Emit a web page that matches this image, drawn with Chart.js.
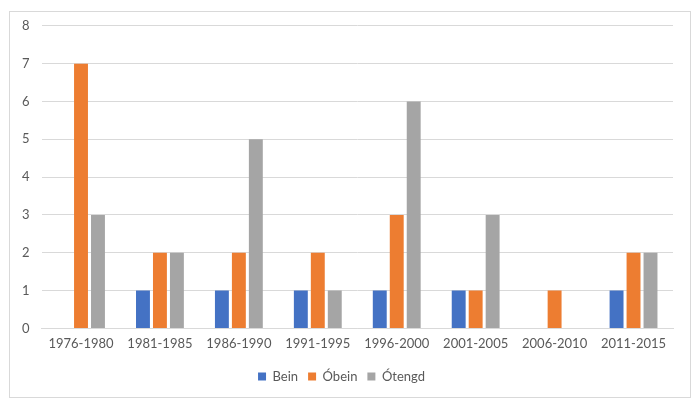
<!DOCTYPE html>
<html>
<head>
<meta charset="utf-8">
<script src="https://cdn.jsdelivr.net/npm/chart.js@4/dist/chart.umd.min.js"></script>
<style>
html,body{margin:0;padding:0;background:#fff;width:700px;height:413px;overflow:hidden;}
#frame{position:absolute;left:9px;top:11px;width:680px;height:385px;border:1px solid #d9d9d9;}
#c{position:absolute;left:10px;top:6px;display:block;}
</style>
</head>
<body>
<div id="frame"></div>
<canvas id="c" width="680" height="391"></canvas>
<script>
const categories = ["1976-1980","1981-1985","1986-1990","1991-1995","1996-2000","2001-2005","2006-2010","2011-2015"];
const bein = [0,1,1,1,1,1,0,1];
const obein = [7,2,2,2,3,1,1,2];
const otengd = [3,2,5,1,6,3,0,2];
const seriesNames = ["Bein","Óbein","Ótengd"];
const yTicks = [0,1,2,3,4,5,6,7,8];

const font = {family:"Lato, 'Open Sans', sans-serif", size:13};
new Chart(document.getElementById('c'), {
  type:'bar',
  data:{
    labels:categories,
    datasets:[
      {label:seriesNames[0], data:bein, backgroundColor:'#4472c4'},
      {label:seriesNames[1], data:obein, backgroundColor:'#ed7d31'},
      {label:seriesNames[2], data:otengd, backgroundColor:'#a5a5a5'}
    ]
  },
  options:{
    responsive:false,
    animation:false,
    devicePixelRatio:1,
    datasets:{bar:{categoryPercentage:0.645, barPercentage:0.82}},
    layout:{padding:{left:0,right:17,top:0,bottom:4}},
    plugins:{
      legend:{position:'bottom', labels:{boxWidth:8, boxHeight:8, font:font, color:'#595959', padding:10}},
      tooltip:{enabled:false}
    },
    scales:{
      x:{
        grid:{display:false, drawTicks:false},
        border:{color:'#d9d9d9'},
        ticks:{font:font, color:'#595959', padding:8, maxRotation:0}
      },
      y:{
        min:0, max:8,
        afterBuildTicks:(ax)=>{ax.ticks = yTicks.map(v=>({value:v}));},
        grid:{color:'#d9d9d9', drawTicks:false},
        border:{display:false},
        ticks:{font:font, color:'#595959', padding:12}
      }
    }
  }
});
</script>
</body>
</html>
